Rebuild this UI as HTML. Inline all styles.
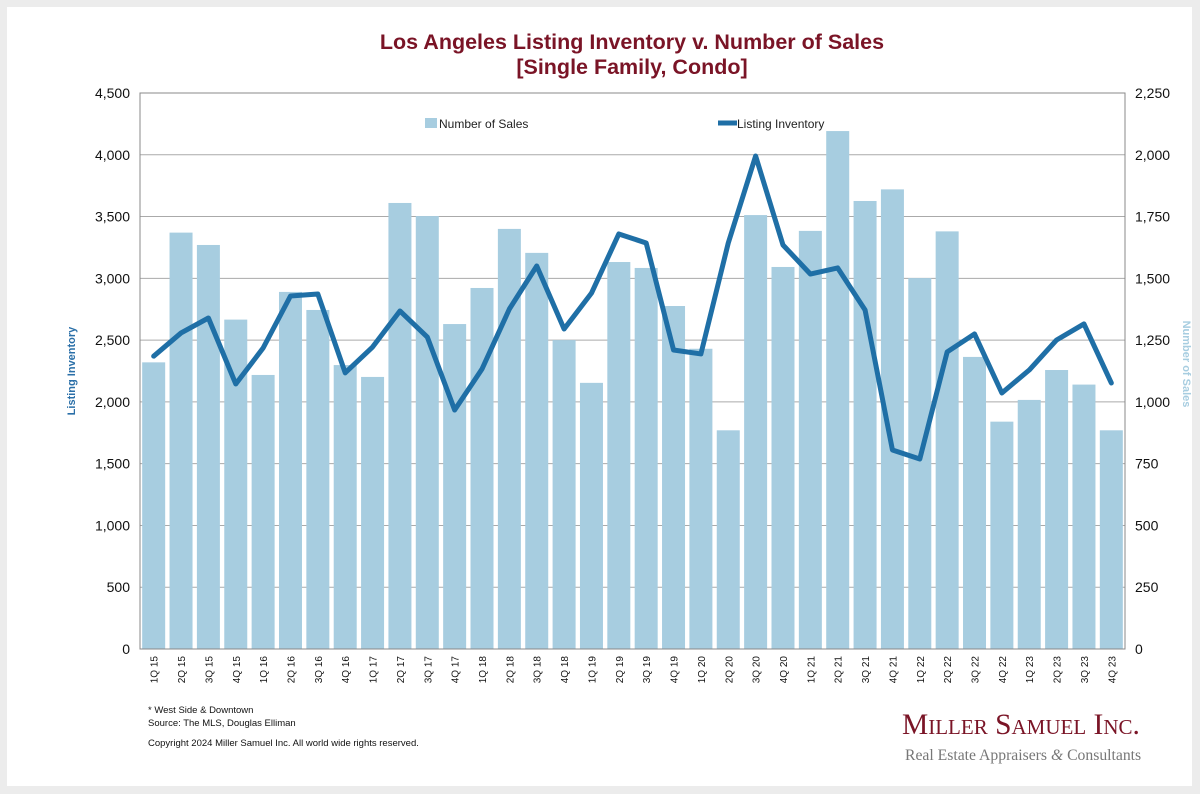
<!DOCTYPE html>
<html><head><meta charset="utf-8"><style>
body{margin:0;background:#ececec;width:1200px;height:794px;overflow:hidden;font-family:"Liberation Sans",sans-serif}
#panel{position:absolute;left:7px;top:7px;width:1185px;height:779px;background:#fff}
</style></head><body>
<div id="panel"></div>
<svg id="chart" width="1200" height="794" style="position:absolute;left:0;top:0">
<text x="632" y="49" text-anchor="middle" font-size="21.5" font-weight="bold" fill="#7a1426">Los Angeles Listing Inventory v. Number of Sales</text>
<text x="632" y="74" text-anchor="middle" font-size="21.5" font-weight="bold" fill="#7a1426">[Single Family, Condo]</text>
<g id="grid"></g><g id="bars"></g><g id="line"></g><g id="axes"></g>
<text transform="translate(75,371) rotate(-90)" text-anchor="middle" font-size="11" font-weight="bold" fill="#2a6fa8">Listing Inventory</text>
<text transform="translate(1183,364) rotate(90)" text-anchor="middle" font-size="11" font-weight="bold" fill="#a7cde0">Number of Sales</text>
<rect x="425" y="118" width="12" height="10" fill="#a7cde0"/>
<text x="439" y="128" font-size="12" fill="#222">Number of Sales</text>
<line x1="718" y1="123" x2="737" y2="123" stroke="#1f6fa6" stroke-width="5"/>
<text x="737" y="128" font-size="12" fill="#222">Listing Inventory</text>
<text x="148" y="713" font-size="9.5" fill="#111">* West Side &amp; Downtown</text>
<text x="148" y="726" font-size="9.5" fill="#111">Source: The MLS, Douglas Elliman</text>
<text x="148" y="746" font-size="9.5" fill="#111">Copyright 2024 Miller Samuel Inc.  All world wide rights reserved.</text>
<text x="902" y="734" font-size="29.5" font-family="Liberation Serif,serif" fill="#7a1426" style="font-variant:small-caps">Miller Samuel Inc.</text>
<text x="905" y="760" font-size="15.7" font-family="Liberation Serif,serif" fill="#777">Real Estate Appraisers <tspan font-style="italic">&amp;</tspan> Consultants</text>
</svg>
<script>
const categories=["1Q 15","2Q 15","3Q 15","4Q 15","1Q 16","2Q 16","3Q 16","4Q 16","1Q 17","2Q 17","3Q 17","4Q 17","1Q 18","2Q 18","3Q 18","4Q 18","1Q 19","2Q 19","3Q 19","4Q 19","1Q 20","2Q 20","3Q 20","4Q 20","1Q 21","2Q 21","3Q 21","4Q 21","1Q 22","2Q 22","3Q 22","4Q 22","1Q 23","2Q 23","3Q 23","4Q 23"];
const sales=[1160,1685,1635,1333,1109,1445,1372,1149,1101,1805,1752,1315,1461,1700,1603,1250,1077,1566,1542,1388,1215,885,1756,1546,1692,2096,1813,1860,1501,1690,1182,920,1008,1129,1070,885];
const inventory=[2370,2558,2679,2145,2436,2857,2873,2235,2444,2736,2525,1934,2266,2752,3100,2590,2880,3359,3286,2420,2388,3286,3990,3270,3035,3084,2744,1611,1538,2404,2550,2072,2258,2501,2631,2153];
const leftTicks=[0,500,1000,1500,2000,2500,3000,3500,4000,4500];
const rightTicks=[0,250,500,750,1000,1250,1500,1750,2000,2250];
const NS="http://www.w3.org/2000/svg";
const X0=140,X1=1125,Y0=649,Y1=93;
const bw=(X1-X0)/categories.length;
const xC=i=>X0+bw*(i+0.5);
const yL=v=>Y0-(v/4500)*(Y0-Y1);
const yR=v=>Y0-(v/2250)*(Y0-Y1);
function mk(tag,attrs,parent){const e=document.createElementNS(NS,tag);for(const k in attrs)e.setAttribute(k,attrs[k]);document.getElementById(parent).appendChild(e);return e;}
leftTicks.forEach((t,i)=>{
  const g=mk("line",{x1:X0,x2:X1,y1:yL(t),y2:yL(t),stroke:"#aaa","stroke-width":1},"grid");
  
  
  const a=mk("text",{x:X0-10,y:yL(t)+5,"text-anchor":"end","font-size":14,fill:"#111"},"axes");a.textContent=t.toLocaleString("en-US");
  
  
  const b=mk("text",{x:X1+10,y:yR(rightTicks[i])+5,"font-size":14,fill:"#111"},"axes");b.textContent=rightTicks[i].toLocaleString("en-US");
  
  
});
const bx=mk("rect",{x:X0,y:Y1,width:X1-X0,height:Y0-Y1,fill:"none",stroke:"#888"},"axes");


categories.forEach((c,i)=>{
  const r=mk("rect",{x:xC(i)-11.5,y:yR(sales[i]),width:23,height:Y0-yR(sales[i]),fill:"#a7cde0"},"bars");
  
  
  const t=mk("text",{transform:`translate(${xC(i)+4},${Y0+7}) rotate(-90)`,"text-anchor":"end","font-size":10,fill:"#111"},"axes");t.textContent=c;
  
  
});
const p=mk("polyline",{points:inventory.map((v,i)=>xC(i)+","+yL(v)).join(" "),fill:"none",stroke:"#1f6fa6","stroke-width":5,"stroke-linejoin":"round","stroke-linecap":"round"},"line");


</script>
</body></html>
